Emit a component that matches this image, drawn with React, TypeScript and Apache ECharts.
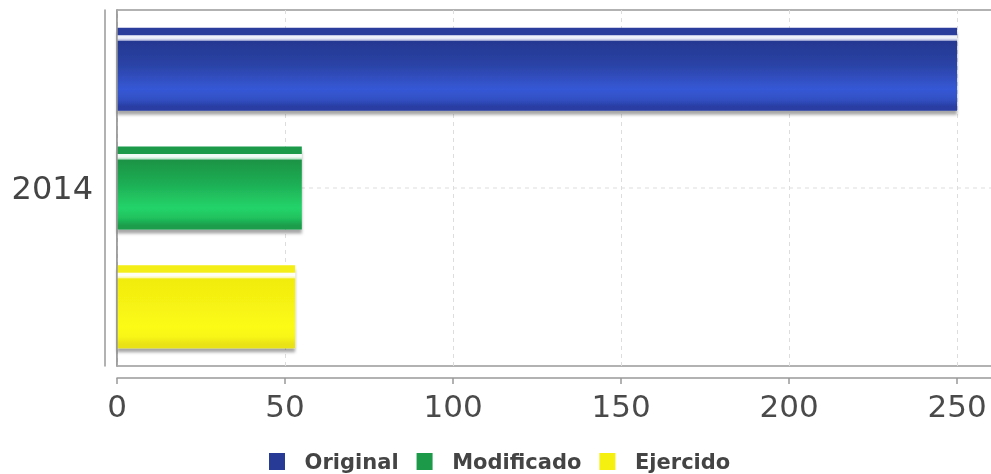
import React, { useEffect, useRef } from "react";
import * as echarts from "echarts";

const categories = ["2014"];
const seriesNames = ["Original", "Modificado", "Ejercido"];
const originalValues = [250];
const modificadoValues = [55];
const ejercidoValues = [53];
const axisMin = 0;
const axisMax = 261;
const axisInterval = 50;

type Pal = { stripe: string; hi: string; hi2: string; top: string; mid: string; bright: string; low: string; edge: string };

const palettes: Pal[] = [
  { stripe: "#2b3e9c", hi: "#eef0fa", hi2: "#b4badf", top: "#243891", mid: "#2b43a6", bright: "#3658d6", low: "#3250c4", edge: "#293ea2" },
  { stripe: "#1c9a4a", hi: "#f2faf5", hi2: "#b5e3c6", top: "#1a9345", mid: "#1eae54", bright: "#23d46a", low: "#20c25e", edge: "#1a9d4b" },
  { stripe: "#f4ee12", hi: "#fefef2", hi2: "#fbf7b0", top: "#f2ec0e", mid: "#f6f212", bright: "#fbfb18", low: "#f8f616", edge: "#e9e212" },
];

const legendColors = ["#263a96", "#1c9a4a", "#f5f010"];

function grad(p: Pal) {
  return {
    type: "linear",
    x: 0,
    y: 0,
    x2: 0,
    y2: 1,
    colorStops: [
      { offset: 0, color: p.stripe },
      { offset: 0.085, color: p.stripe },
      { offset: 0.095, color: p.hi },
      { offset: 0.125, color: p.hi },
      { offset: 0.15, color: p.hi2 },
      { offset: 0.165, color: p.top },
      { offset: 0.45, color: p.mid },
      { offset: 0.74, color: p.bright },
      { offset: 0.86, color: p.low },
      { offset: 0.95, color: p.edge },
      { offset: 1, color: p.edge },
    ],
  };
}

export default function App() {
  const ref = useRef<HTMLDivElement>(null);
  useEffect(() => {
    if (!ref.current) return;
    const chart = echarts.init(ref.current, null, { renderer: "svg" });
    const values = [originalValues, modificadoValues, ejercidoValues];
    const font = "DejaVu Sans";
    const barSeries = seriesNames.map((name, i) => ({
      name,
      type: "bar",
      data: values[i],
      barWidth: 83,
      barGap: "43%",
      z: 3,
      itemStyle: {
        color: grad(palettes[i]),
        shadowColor: "rgba(0,0,0,0.35)",
        shadowBlur: 3,
        shadowOffsetY: 4,
        shadowOffsetX: 0,
      },
    }));
    const centerLine = {
      name: "_grid",
      type: "line",
      silent: true,
      symbol: "none",
      z: 0,
      lineStyle: { color: "#ddd", type: [4, 4], width: 1 },
      data: [
        [axisMin, categories[0]],
        [axisMax, categories[0]],
      ],
    };
    chart.setOption({
      animation: false,
      grid: {
        left: 117,
        right: 0,
        top: 10,
        bottom: 108,
        show: true,
        borderColor: "#999",
        borderWidth: 1.5,
        backgroundColor: "transparent",
      },
      legend: {
        data: seriesNames.map((n, i) => ({ name: n, itemStyle: { color: legendColors[i] } })),
        left: 269,
        top: 451,
        padding: 0,
        itemWidth: 16,
        itemHeight: 17,
        itemGap: 18,
        icon: "rect",
        formatter: (n: string) => "  " + n,
        textStyle: { fontFamily: font, fontWeight: "bold", fontSize: 21, color: "#444" },
      },
      xAxis: {
        type: "value",
        min: axisMin,
        max: axisMax,
        interval: axisInterval,
        offset: 12,
        axisLine: { show: true, onZero: false, lineStyle: { color: "#999", width: 1.5 } },
        axisTick: { show: true, length: 6, lineStyle: { color: "#999", width: 1.5 } },
        axisLabel: { showMaxLabel: false, fontFamily: font, fontSize: 31, color: "#4a4a4a", margin: 12 },
        splitLine: { show: true, lineStyle: { color: "#ddd", type: [4, 4], width: 1 } },
      },
      yAxis: [
        {
          type: "category",
          data: categories,
          inverse: true,
          offset: 12,
          axisLine: { show: true, onZero: false, lineStyle: { color: "#999", width: 1.5 } },
          axisTick: { show: false },
          axisLabel: { fontFamily: font, fontSize: 32, color: "#444", margin: 12 },
          splitLine: { show: false },
        },
        {
          type: "category",
          data: categories,
          inverse: true,
          position: "left",
          offset: 0,
          z: 5,
          axisLine: { show: true, onZero: false, lineStyle: { color: "#999", width: 1.5 } },
          axisTick: { show: false },
          axisLabel: { show: false },
          splitLine: { show: false },
        },
      ],
      series: [centerLine, ...barSeries],
    });
    return () => chart.dispose();
  }, []);
  return <div ref={ref} style={{ position: "fixed", left: 0, top: 0, width: 994, height: 474 }} />;
}
